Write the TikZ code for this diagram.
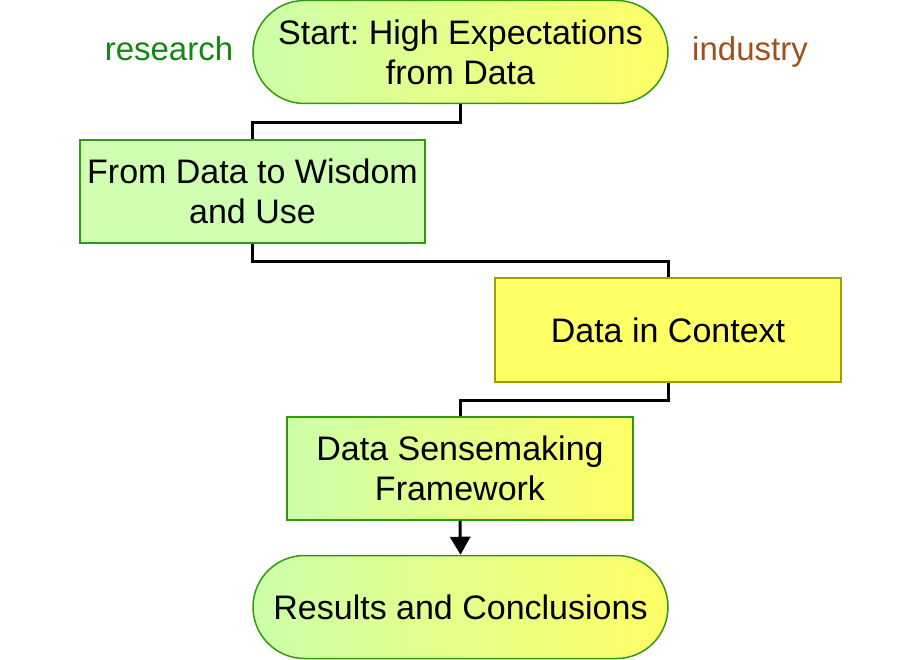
\documentclass[tikz,border=0pt]{standalone}
\usepackage{fontspec}
\setmainfont{Liberation Sans}
\usetikzlibrary{shapes.misc,arrows.meta}
\frenchspacing
\definecolor{lgreen}{HTML}{CCFFAA}
\definecolor{lyellow}{HTML}{FFFF66}
\definecolor{bgreen}{HTML}{339911}
\definecolor{byellow}{HTML}{A0A000}
\definecolor{resgreen}{HTML}{118811}
\definecolor{indbrown}{HTML}{A0501A}
\tikzset{
  txt/.style={font=\fontsize{34}{40}\selectfont, align=center, text=black},
  term/.style={txt, rounded rectangle, draw=bgreen, line width=1.5pt, minimum width=415pt, minimum height=103pt, inner sep=0pt, left color=lgreen, right color=lyellow},
  greenbox/.style={txt, rectangle, draw=bgreen, line width=1.5pt, minimum width=345pt, minimum height=103pt, inner sep=0pt, fill=lgreen!90!white},
  yellowbox/.style={txt, rectangle, draw=byellow, line width=1.5pt, minimum width=346pt, minimum height=104pt, inner sep=0pt, fill=lyellow},
  gradbox/.style={txt, rectangle, draw=bgreen, line width=1.5pt, minimum width=346pt, minimum height=103pt, inner sep=0pt, left color=lgreen, right color=lyellow},
  conn/.style={line width=3pt, black},
  side/.style={font=\fontsize{33}{38}\selectfont, anchor=base}
}
\begin{document}
\begin{tikzpicture}[x=1pt,y=-1pt]
\useasboundingbox (0,0) rectangle (920,660);
\node[term] (start) at (460.5,52) {Start: High Expectations\\from Data};
\node[greenbox] (fd) at (252.5,191.5) {From Data to Wisdom\\and Use};
\node[yellowbox] (ctx) at (668,330) {Data in Context};
\node[gradbox] (dsf) at (460,468.5) {Data Sensemaking\\Framework};
\node[term] (res) at (460.5,607) {Results and Conclusions};
\node[side, text=resgreen] (research) at (169,61) {research};
\node[side, text=indbrown] (industry) at (750,61) {industry};
\draw[conn] (start.south) -- ++(0,18) -| (fd.north);
\draw[conn] (fd.south) -- ++(0,18) -| (ctx.north);
\draw[conn] (ctx.south) -- ++(0,18) -| (dsf.north);
\draw[conn, -{Triangle[width=20pt,length=18pt]}] (dsf.south) -- (res.north);
\end{tikzpicture}
\end{document}
